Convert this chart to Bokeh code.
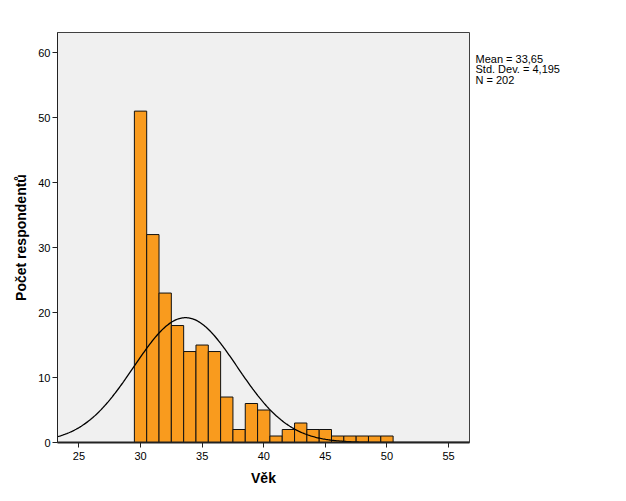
import numpy as np
from bokeh.plotting import figure
from bokeh.layouts import row
from bokeh.models import Range1d, FixedTicker, ColumnDataSource
from bokeh.core.properties import value
from bokeh.embed import file_html
from bokeh.resources import INLINE

ages = [30, 31, 32, 33, 34, 35, 36, 37, 38, 39, 40, 41, 42, 43, 44, 45, 46, 47, 48, 49, 50]
counts = [51, 32, 23, 18, 14, 15, 14, 7, 2, 6, 5, 1, 2, 3, 2, 2, 1, 1, 1, 1, 1]
mean_val = 33.65
sd_val = 4.195
n_val = 202
stats_lines = ["Mean = 33,65", "Std. Dev. = 4,195", "N = 202"]
x_ticks = [25, 30, 35, 40, 45, 50, 55]
y_ticks = [0, 10, 20, 30, 40, 50, 60]

FONT = "Liberation Sans"
X0, X1, Y1 = 23.26, 56.7, 63.1
TOP, BOTTOM = 32, 59
FRAME_H = 501 - TOP - BOTTOM

p = figure(width=470, height=501, output_backend="svg", toolbar_location=None,
           x_range=Range1d(X0, X1), y_range=Range1d(0, Y1),
           min_border_left=57, min_border_right=1, min_border_top=TOP, min_border_bottom=BOTTOM)
p.background_fill_color = "#F0F0F0"
p.border_fill_color = "white"
p.outline_line_color = "#404040"
p.outline_line_width = 1
p.grid.visible = False

src = ColumnDataSource(dict(left=[a - 0.5 for a in ages], right=[a + 0.5 for a in ages],
                            top=counts, bottom=[0] * len(ages)))
p.quad(left="left", right="right", top="top", bottom="bottom", source=src,
       fill_color="#F99B1E", line_color="#111111", line_width=1)

xs = np.linspace(X0, X1, 400)
ys = n_val * 1.0 / (sd_val * np.sqrt(2 * np.pi)) * np.exp(-0.5 * ((xs - mean_val) / sd_val) ** 2)
p.line(xs, ys, line_color="black", line_width=1.3)

for ax in (p.xaxis[0], p.yaxis[0]):
    ax.major_label_text_font = FONT
    ax.major_label_text_font_size = "11px"
    ax.major_label_text_color = "black"
    ax.axis_label_text_font = FONT
    ax.axis_label_text_font_style = "bold"
    ax.axis_label_text_font_size = "14px"
    ax.axis_label_text_color = "black"
    ax.axis_line_color = "#222222"
    ax.major_tick_line_color = "#222222"
    ax.major_tick_out = 5
    ax.major_tick_in = 0
    ax.minor_tick_line_color = None

p.xaxis.ticker = FixedTicker(ticks=x_ticks)
p.yaxis.ticker = FixedTicker(ticks=y_ticks)
p.xaxis.axis_label = "Věk"
p.yaxis.axis_label = "Počet respondentů"
p.xaxis.axis_line_width = 2
p.xaxis.axis_label_standoff = 7
p.yaxis.axis_label_standoff = 6
p.yaxis.major_label_standoff = 2
p.xaxis.major_label_standoff = 4

# side panel holding the statistics text; its frame is aligned with the main frame,
# so coordinates are pixels measured down from the frame top
s = figure(width=156, height=501, output_backend="svg", toolbar_location=None,
           x_range=Range1d(0, 156), y_range=Range1d(FRAME_H, 0),
           min_border=0, x_axis_type=None, y_axis_type=None)
s.outline_line_color = None
s.grid.visible = False
s.background_fill_color = "white"
s.border_fill_color = "white"
s.text(x=[5] * len(stats_lines), y=[26 + i * 10.5 for i in range(len(stats_lines))],
       text=stats_lines, text_font=value(FONT), text_font_size="11px",
       text_color="black", text_baseline="middle", text_align="left")

layout = row(p, s, spacing=0)
open("out.html", "w").write(file_html(layout, INLINE))
